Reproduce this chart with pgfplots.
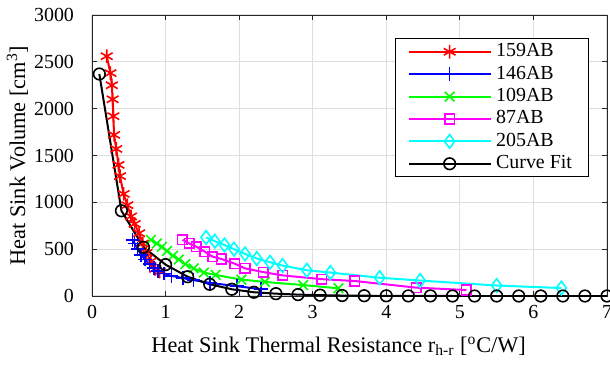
\documentclass[border=0pt]{standalone}
\usepackage{fontspec}
\setmainfont{Liberation Serif}
\usepackage{pgfplots}
\pgfplotsset{compat=1.18}
\definecolor{mgrid}{rgb}{0.87,0.87,0.87}
\definecolor{maxis}{rgb}{0.15,0.15,0.15}
\definecolor{mred}{rgb}{1,0,0}
\definecolor{mblue}{rgb}{0,0,1}
\definecolor{mgreen}{rgb}{0,1,0}
\definecolor{mmag}{rgb}{1,0,1}
\definecolor{mcyan}{rgb}{0,1,1}
\begin{document}
\fontsize{10}{12}\selectfont
\begin{tikzpicture}
\begin{axis}[
  at={(0,0)}, anchor=south west,
  scale only axis, width=257.5bp, height=140.5bp,
  xmin=0, xmax=7, ymin=0, ymax=3000,
  xtick={0,1,...,7}, ytick={0,500,...,3000},
  scaled y ticks=false,
  /pgf/number format/assume math mode=true,
  /pgf/number format/1000 sep={},
  tick label style={font=\fontsize{10}{12}\selectfont},
  label style={font=\fontsize{11.2}{13}\selectfont},
  yticklabel style={xshift=-5.5bp},
  xticklabel style={yshift=-1.2bp},
  grid=major,
  major grid style={mgrid, line width=0.6bp},
  axis line style={maxis, line width=0.5bp},
  tick style={maxis, line width=0.5bp},
  tick align=inside,
  major tick length=2.5bp,
  xtick pos=both, ytick pos=both,
  xlabel={Heat Sink Thermal Resistance r\textsubscript{h-r} [\textsuperscript{o}C/W]},
  ylabel={Heat Sink Volume [cm\textsuperscript{3}]},
  xlabel style={at={(axis description cs:0.479,-0.2)}, anchor=base},
  ylabel style={at={(axis description cs:-0.13,0.5)}, anchor=base},
  legend style={at={(0.965,0.918)}, anchor=north east, draw=black, line width=0.5bp,
    font=\fontsize{10}{12}\selectfont, row sep=0bp, inner xsep=6bp, inner ysep=1bp,
    nodes={text height=7bp, text depth=2bp, inner ysep=1.1bp, inner xsep=2.25bp},
    cells={anchor=west}},
  legend image code/.code={\draw[mark repeat=2,mark phase=2] plot coordinates {(0bp,0bp)(20.5bp,0bp)(41bp,0bp)};},
  every axis plot/.append style={line width=1bp},
]
\addplot[mred, mark=asterisk, mark size=3.4bp, mark options={line width=0.8bp}] coordinates {
(0.20,2560)(0.25,2380)(0.27,2250)(0.28,2100)(0.29,1920)(0.30,1720)(0.33,1570)
(0.36,1400)(0.38,1280)(0.43,1090)(0.48,970)(0.53,850)(0.58,770)(0.64,670)
(0.69,560)(0.74,460)(0.80,370)(0.86,290)(0.92,260)};
\addlegendentry{159AB}
\addplot[mblue, mark=+, mark size=3.4bp, mark options={line width=0.8bp}] coordinates {
(0.55,600)(0.58,560)(0.62,500)(0.67,440)(0.72,390)(0.78,340)(0.84,300)(0.90,265)
(0.98,240)(1.08,215)(1.24,190)(1.38,170)(1.60,140)(1.97,105)(2.30,72)};
\addlegendentry{146AB}
\addplot[mgreen, mark=x, mark size=3.4bp, mark options={line width=0.8bp}] coordinates {
(0.80,600)(0.88,560)(0.95,525)(1.02,480)(1.10,430)(1.18,390)(1.27,340)(1.38,295)
(1.52,250)(1.68,225)(2.03,175)(2.35,150)(2.87,117)(3.35,82)};
\addlegendentry{109AB}
\addplot[mmag, mark=square, mark size=2.4bp, mark options={line width=0.8bp}] coordinates {
(1.23,600)(1.32,562)(1.42,526)(1.53,475)(1.64,420)(1.76,395)(1.94,345)(2.08,295)
(2.33,255)(2.59,220)(3.12,180)(3.57,160)(4.41,89)(5.09,64)};
\addlegendentry{87AB}
\addplot[mcyan, mark=diamond, mark size=3.4bp, mark options={line width=0.8bp}] coordinates {
(1.55,625)(1.67,585)(1.80,545)(1.93,500)(2.08,450)(2.24,400)(2.42,360)(2.59,325)
(2.92,275)(3.24,250)(3.91,195)(4.46,165)(5.50,112)(6.38,85)};
\addlegendentry{205AB}
\addplot[black, mark=o, mark size=2.9bp, mark options={line width=0.8bp}] coordinates {
(0.1,2370)(0.4,910)(0.7,520)(1.0,335)(1.3,206)(1.6,125)(1.9,72)(2.2,40)
(2.5,25)(2.8,15)(3.1,9)(3.4,5)(3.7,3)(4.0,2)(4.3,1)(4.6,1)(4.9,0)(5.2,0)
(5.5,0)(5.8,0)(6.1,0)(6.4,0)(6.7,0)(7.0,0)};
\addlegendentry{Curve Fit}
\end{axis}
\pgfresetboundingbox
\path (-46bp,-35bp) rectangle (259bp,148bp);
\end{tikzpicture}
\end{document}
